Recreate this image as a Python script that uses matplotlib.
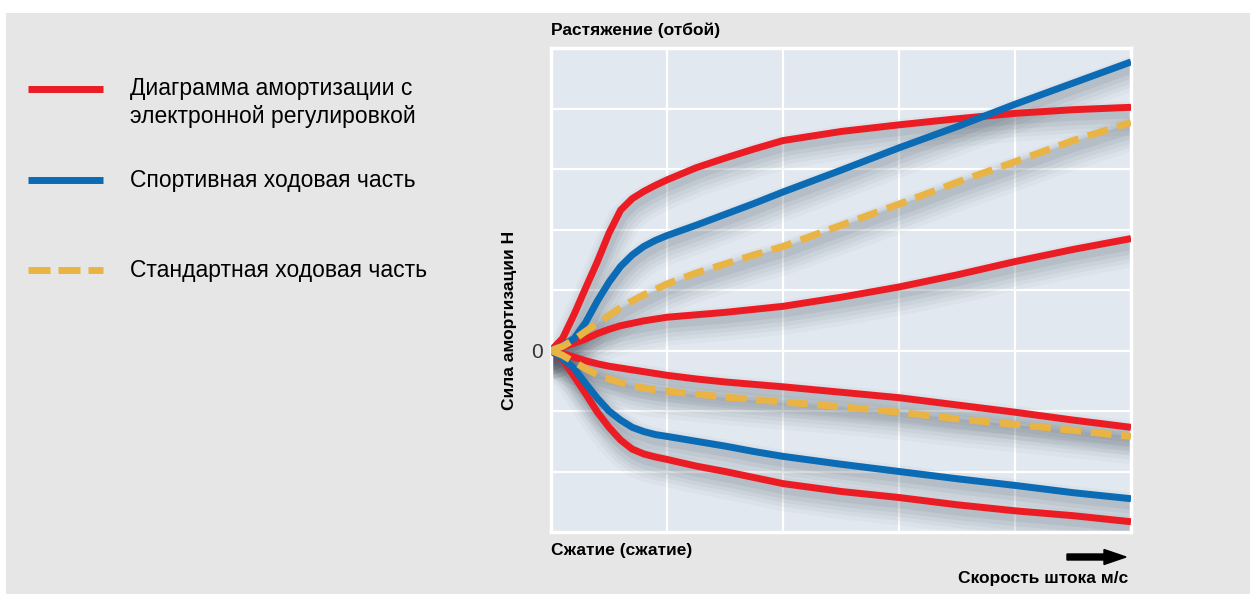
import matplotlib
matplotlib.use("Agg")
import matplotlib.pyplot as plt
import matplotlib.patches as patches
import matplotlib.lines as mlines
import matplotlib.transforms as mtransforms

plt.rcParams['font.family'] = ['Liberation Sans', 'DejaVu Sans']

# ---------------- data ----------------
x = [0, 0.1, 0.2, 0.3, 0.4, 0.5, 0.6, 0.7, 0.8, 0.9, 1.0, 1.25, 1.5, 1.75, 2.0, 2.5, 3.0, 3.5, 4.0, 4.5, 5.0]

red_top = [0, 0.2, 0.6, 1.04, 1.47, 1.94, 2.32, 2.51, 2.63, 2.73, 2.82, 3.02, 3.18, 3.33, 3.47,
           3.62, 3.73, 3.83, 3.92, 3.98, 4.02]
red_mid_up = [0, 0.06, 0.12, 0.19, 0.28, 0.35, 0.41, 0.45, 0.49, 0.52, 0.55, 0.59, 0.63, 0.68, 0.73,
              0.88, 1.05, 1.25, 1.47, 1.67, 1.85]
red_mid_low = [0, -0.05, -0.11, -0.17, -0.22, -0.26, -0.29, -0.32, -0.35, -0.38, -0.41, -0.47, -0.52,
               -0.56, -0.6, -0.69, -0.78, -0.9, -1.02, -1.15, -1.27]
red_bottom = [0, -0.15, -0.43, -0.72, -1.02, -1.27, -1.48, -1.63, -1.71, -1.76, -1.8, -1.91, -2.0,
              -2.1, -2.2, -2.33, -2.43, -2.55, -2.65, -2.73, -2.83]

blue_top = [0, 0.08, 0.2, 0.47, 0.82, 1.13, 1.39, 1.58, 1.72, 1.82, 1.9, 2.07, 2.25, 2.43, 2.62,
            2.98, 3.35, 3.7, 4.07, 4.42, 4.77]
blue_bottom = [0, -0.13, -0.3, -0.55, -0.79, -1.0, -1.15, -1.27, -1.34, -1.39, -1.42, -1.5, -1.58,
               -1.67, -1.75, -1.88, -2.0, -2.12, -2.23, -2.35, -2.45]

yellow_top = [0, 0.07, 0.18, 0.32, 0.45, 0.58, 0.71, 0.82, 0.92, 1.01, 1.1, 1.28, 1.43, 1.58, 1.72,
              2.07, 2.42, 2.78, 3.12, 3.47, 3.77]
yellow_bottom = [0, -0.08, -0.19, -0.3, -0.4, -0.47, -0.53, -0.58, -0.62, -0.65, -0.67, -0.72, -0.77,
                 -0.81, -0.85, -0.93, -1.02, -1.13, -1.22, -1.32, -1.42]

legend_lines = [["Диаграмма амортизации с", "электронной регулировкой"],
                ["Спортивная ходовая часть"],
                ["Стандартная ходовая часть"]]
title_top = "Растяжение (отбой)"
title_bottom = "Сжатие (сжатие)"
x_label = "Скорость штока м/с"
y_label = "Сила амортизации Н"

RED = "#ec1c24"
BLUE = "#0b6bb5"
YELLOW = "#eab444"

# ---------------- figure ----------------
W, H = 1250, 594
fig = plt.figure(figsize=(W / 100, H / 100), dpi=100, facecolor="white")

def fx(px):
    return px / W

def fy(py):
    return 1 - py / H

# gray background panel
fig.patches.append(patches.Rectangle((fx(6), 0), 1 - fx(6), fy(13), transform=fig.transFigure,
                                     facecolor="#e6e6e6", edgecolor="none", zorder=-10))

ax = fig.add_axes([fx(551), fy(532), fx(1131) - fx(551), fy(48) - fy(532)])
ax.set_zorder(1)
ax.set_facecolor("#e1e8ef")
ax.set_xlim(0, 5)
ax.set_ylim(-3, 5)
ax.set_xticks([1, 2, 3, 4])
ax.set_yticks([-2, -1, 0, 1, 2, 3, 4])
ax.grid(True, color="white", linewidth=1.6)
ax.tick_params(length=0, labelbottom=False, labelleft=False)
for s in ax.spines.values():
    s.set_color("white")
    s.set_linewidth(2.5)
ax.set_axisbelow(True)

LW = 5.0
series = [
    (red_top, RED, None), (red_mid_up, RED, None), (red_mid_low, RED, None), (red_bottom, RED, None),
    (blue_top, BLUE, None), (blue_bottom, BLUE, None),
    (yellow_top, YELLOW, (3.0, 1.4)), (yellow_bottom, YELLOW, (3.0, 1.4)),
]

# soft shadows (stacked translucent strokes, offset down-right)
for width, alpha, dx, dy in [(34, 0.04, 3, -11), (27, 0.05, 3, -10), (21, 0.06, 3, -9),
                             (15, 0.07, 2, -8), (10, 0.09, 2, -6)]:
    tr = mtransforms.offset_copy(ax.transData, fig=fig, x=dx, y=dy, units='dots')
    for ys, c, d in series:
        ax.plot(x, ys, color="#4a5561", lw=width * 0.72, alpha=alpha, transform=tr,
                solid_capstyle='round', solid_joinstyle='round', zorder=2)

z = 3
for ys, c, d in series:
    ln, = ax.plot(x, ys, color=c, lw=LW, solid_joinstyle='round', solid_capstyle='butt', zorder=z)
    if d is not None:
        ln.set_dashes(d)
        ln.set_dash_capstyle('butt')
    z += 1

# ---------------- texts ----------------
BS = 12.5
fig.text(fx(551), fy(30), title_top, fontsize=BS, fontweight='bold', ha='left', va='center')
fig.text(fx(551), fy(551), title_bottom, fontsize=BS, fontweight='bold', ha='left', va='center')
fig.text(fx(1128), fy(579), x_label, fontsize=BS, fontweight='bold', ha='right', va='center')
fig.text(fx(510), fy(320), y_label, fontsize=BS, fontweight='bold', ha='center', va='center', rotation=90)
fig.text(fx(543), fy(352), "0", fontsize=15, color="#333333", ha='right', va='center')

# arrow
fig.patches.append(patches.FancyArrow(fx(1067), fy(557), fx(1126) - fx(1067), 0,
                                      width=6 / H, head_width=15 / H, head_length=22 / W,
                                      length_includes_head=True, transform=fig.transFigure,
                                      color="black", zorder=5))

# legend
leg_y = [89, 180, 270]
leg_colors = [RED, BLUE, YELLOW]
for i, (yy, c) in enumerate(zip(leg_y, leg_colors)):
    ln = mlines.Line2D([fx(28), fx(103)], [fy(yy), fy(yy)], transform=fig.transFigure,
                       color=c, lw=LW, solid_capstyle='butt')
    if i == 2:
        ln.set_dashes((3.17, 1.15))
        ln.set_dash_capstyle('butt')
    fig.lines.append(ln)
LS = 16.5
for yy, lines in zip(leg_y, legend_lines):
    for k, t in enumerate(lines):
        fig.text(fx(130), fy(yy + 27 * k), t, fontsize=LS, ha='left', va='center')

fig.savefig("out.png", dpi=100, facecolor=fig.get_facecolor())
